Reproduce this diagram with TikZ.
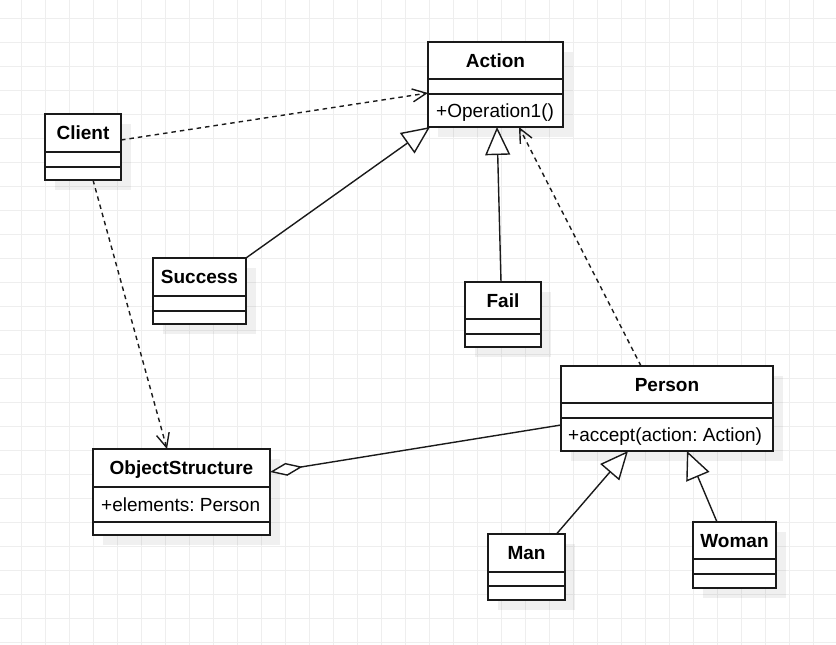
\documentclass[tikz,border=0pt]{standalone}
\usepackage{fontspec}
\setmainfont{Liberation Sans}
\usetikzlibrary{arrows.meta,calc}
\frenchspacing
\definecolor{gridc}{HTML}{EEEEEE}
\definecolor{linec}{HTML}{1A1A1A}
\tikzset{
  gridline/.style={draw=gridc, line width=1pt},
  shadowbox/.style={fill=black, fill opacity=0.06, draw=none},
  classbox/.style={draw=linec, fill=white, line width=1.5pt, rectangle, inner sep=0pt, outer sep=0pt},
  sepline/.style={draw=linec, line width=1.5pt},
  titletext/.style={font=\bfseries\fontsize{19}{23}\selectfont, inner sep=0pt, anchor=base},
  membertext/.style={font=\fontsize{19}{23}\selectfont, inner sep=0pt, anchor=base west},
  conn/.style={draw=linec, line width=1.4pt},
  dep/.style={conn, dash pattern=on 4.5pt off 4pt, -{Straight Barb[length=14pt,width=13pt,line width=1.4pt]}},
  inherit/.style={conn, -{Triangle[length=28pt,width=25pt,fill=white,line width=1.4pt]}},
  aggr/.style={conn, -{Diamond[length=33pt,width=13pt,fill=white,line width=1.4pt]}}
}
% #1 name, #2 x, #3 y, #4 w, #5 h1, #6 h2, #7 h3, #8 title
\newcommand\umlclass[8]{%
  \path[shadowbox] (#2+10,#3+10) rectangle ++(#4,#5+#6+#7);
  \node[classbox, minimum width=#4pt, minimum height={(#5+#6+#7)*1pt}, anchor=north west] (#1) at (#2,#3) {};
  \draw[sepline] (#2,#3+#5) -- ++(#4,0);
  \draw[sepline] (#2,#3+#5+#6) -- ++(#4,0);
  \node[titletext] (#1-title) at (#2+#4/2,#3+#5/2+6.7) {#8};
}
\begin{document}
\begin{tikzpicture}[x=1pt,y=-1pt]
\useasboundingbox (0,0) rectangle (836,645);
\fill[white] (0,0) rectangle (836,645);
\foreach \i in {0,...,33} \draw[gridline] (21+24*\i,0) -- (21+24*\i,645);
\foreach \j in {0,...,26} \draw[gridline] (0,18+24*\j) -- (836,18+24*\j);

\umlclass{action}{428}{42}{135}{37}{15}{33}{Action}
\umlclass{client}{45}{114}{76}{38}{15}{13}{Client}
\umlclass{success}{153}{258}{93}{38}{15}{13}{Success}
\umlclass{fail}{465}{282}{76}{37}{15}{13}{Fail}
\umlclass{person}{561}{366}{212}{37}{15}{33}{Person}
\umlclass{objstr}{93}{449}{177}{38}{35}{13}{ObjectStructure}
\umlclass{man}{488}{534}{77}{38}{14}{14}{Man}
\umlclass{woman}{693}{522}{83}{37}{15}{14}{Woman}

\node[membertext] (action-op) at ($(action.south west)+(8,-16.5+6.7)$) {+Operation1()};
\node[membertext] (person-op) at ($(person.south west)+(7,-16.5+6.7)$) {+accept(action: Action)};
\node[membertext] (objstr-attr) at ($(objstr.north west)+(8,55.5+6.7)$) {+elements: Person};

\draw[dep] ($(client.north east)+(0,26)$) -- ($(action.north west)+(0,51)$);
\draw[inherit] (success.north east) -- ($(action.south west)+(2,0)$);
\draw[inherit] ($(fail.north)+(-2,0)$) -- ($(action.south)+(1.5,0)$);
\draw[dep] ($(person.north)+(-26,0)$) -- ($(action.south)+(23.5,0)$);
\draw[dep] ($(client.south)+(10,0)$) -- ($(objstr.north)+(-14.5,0)$);
\draw[aggr] ($(person.west)+(0,16.5)$) -- ($(objstr.east)+(0,-20)$);
\draw[inherit] ($(man.north)+(30,0)$) -- ($(person.south)+(-39,0)$);
\draw[inherit] ($(woman.north)+(-17.5,0)$) -- ($(person.south)+(20,0)$);
\end{tikzpicture}
\end{document}
